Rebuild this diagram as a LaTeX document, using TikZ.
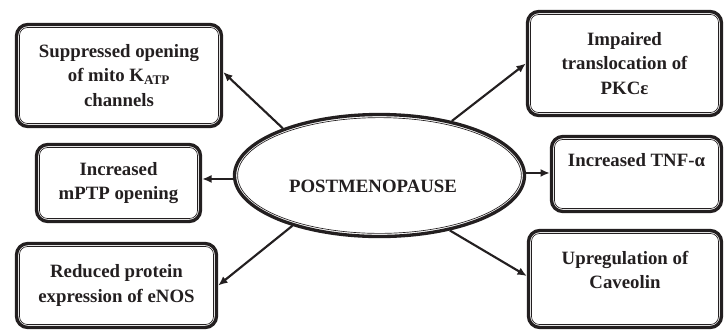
\documentclass[tikz,border=0pt]{standalone}
\usepackage{fontspec}
\setmainfont{Liberation Serif}
\usetikzlibrary{shapes.geometric,arrows.meta}
\definecolor{ink}{RGB}{35,31,32}
\begin{document}
\begin{tikzpicture}[x=0.75pt, y=-0.75pt,
  font=\fontsize{14.1}{18.4}\selectfont\bfseries, text=ink,
  effect/.style={draw=ink, line width=2.5pt, rounded corners=8.5pt, align=center, inner sep=2pt},
  rim/.style={draw=ink, line width=0.5pt},
  link/.style={draw=ink, line width=1.6pt, -{Latex[length=7pt,width=6pt]}}]
\useasboundingbox (0,0) rectangle (724,330);
\node[effect, minimum width=153.75pt, minimum height=76.5pt] (supp) at (119,75.5) {Suppressed opening\\of mito K\textsubscript{ATP}\\channels};
\node[effect, minimum width=123pt, minimum height=57.75pt] (mptp) at (118.5,183) {Increased\\mPTP opening};
\node[effect, minimum width=150pt, minimum height=63pt] (enos) at (116.5,285.5) {Reduced protein\\expression of eNOS};
\node[effect, minimum width=145.5pt, minimum height=78pt] (pkc) at (624.5,63.5) {Impaired\\translocation of\\PKCε};
\node[effect, minimum width=127.5pt, minimum height=56.25pt] (tnf) at (636.5,174) {Increased TNF-α\\[2pt]\mbox{}};
\node[effect, minimum width=144.75pt, minimum height=72.75pt] (cav) at (625,279) {Upregulation of\\Caveolin\\[-5pt]\mbox{}};
\node[ellipse, draw=ink, line width=2.5pt, minimum width=217.5pt, minimum height=91.5pt, inner sep=0pt] (post) at (379.5,175.5) {};
\node (posttext) at (373,186) {POSTMENOPAUSE};
% thin inner rims
\foreach \n in {supp,mptp,enos,pkc,tnf,cav}
  \draw[rim, rounded corners=6pt] ([shift={(3.5pt,3.5pt)}]\n.south west) rectangle ([shift={(-3.5pt,-3.5pt)}]\n.north east);
\draw[rim] (post.center) ellipse [x radius=106.4pt, y radius=43.4pt];
% arrows
\draw[link] (post.154) -- ([yshift=2.6pt]supp.east);
\draw[link] ([yshift=-2.6pt]post.west) -- ([yshift=-2.6pt]post.west -| mptp.east);
\draw[link] (post.210) -- (enos.east);
\draw[link] (post.37) -- (pkc.west);
\draw[link] ([yshift=1.9pt]post.east) -- ([yshift=1.9pt]post.east -| tnf.west);
\draw[link] (post.-38) -- ([yshift=2.25pt]cav.west);
\end{tikzpicture}
\end{document}
